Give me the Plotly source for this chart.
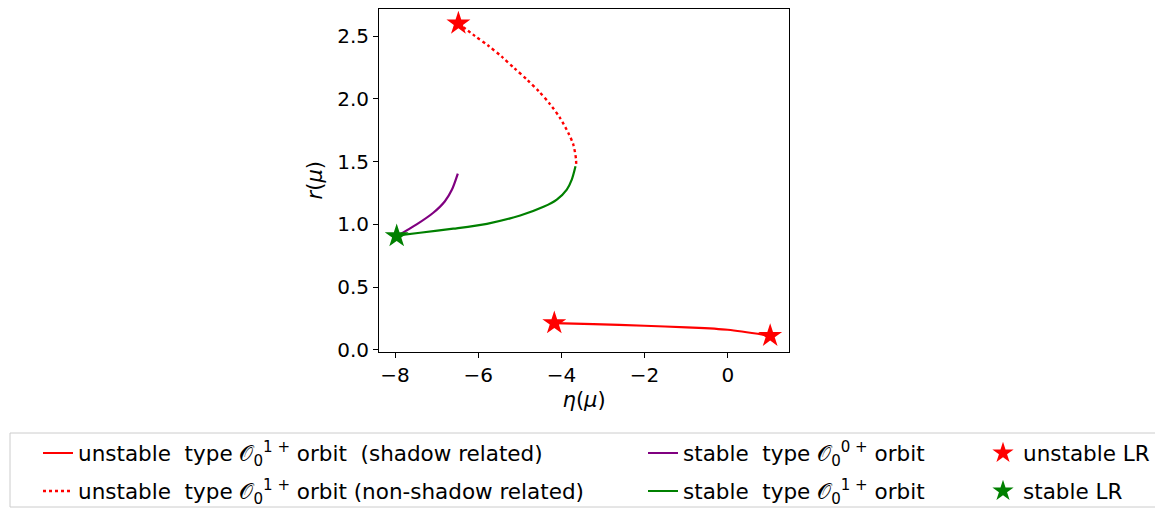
import plotly.graph_objects as go

# ---- data ----
shadow_eta = [-4.17, -3.23, -2.0, -0.99, 0.0, 1.02]
shadow_r = [0.214, 0.206, 0.193, 0.180, 0.161, 0.113]

nonshadow_eta = [-6.476, -6.082, -5.755, -5.433, -5.130, -4.825, -4.536, -4.272, -4.031, -3.832, -3.712, -3.647, -3.647]
nonshadow_r = [2.601, 2.502, 2.423, 2.336, 2.244, 2.153, 2.058, 1.958, 1.847, 1.728, 1.635, 1.516, 1.468]

stable1_eta = [-3.66, -3.75, -3.87, -4.11, -4.43, -4.99, -5.79, -6.60, -7.40, -7.92]
stable1_r = [1.463, 1.357, 1.278, 1.198, 1.140, 1.071, 1.005, 0.966, 0.934, 0.913]

stable0_eta = [-7.92, -7.48, -7.08, -6.80, -6.63, -6.49]
stable0_r = [0.913, 1.000, 1.093, 1.185, 1.278, 1.405]

unstable_lr_eta = [-6.476, -4.17, 1.02]
unstable_lr_r = [2.601, 0.214, 0.113]
stable_lr_eta = [-7.96]
stable_lr_r = [0.907]

x_ticks = [-8, -6, -4, -2, 0]
y_ticks = [0.0, 0.5, 1.0, 1.5, 2.0, 2.5]

O = "\U0001D4AA"
labels = [
    "unstable  type " + O + "<sub>0</sub><sup>1 +</sup> orbit  (shadow related)",
    "unstable  type " + O + "<sub>0</sub><sup>1 +</sup> orbit (non-shadow related)",
    "stable  type " + O + "<sub>0</sub><sup>0 +</sup> orbit",
    "stable  type " + O + "<sub>0</sub><sup>1 +</sup> orbit",
    "unstable LR",
    "stable LR",
]

FONT = "DejaVu Sans"
fig = go.Figure()
fig.add_trace(go.Scatter(x=shadow_eta, y=shadow_r, mode="lines", name=labels[0],
                         line=dict(color="red", width=2.2, shape="spline", smoothing=0.8), legend="legend"))
fig.add_trace(go.Scatter(x=nonshadow_eta, y=nonshadow_r, mode="lines", name=labels[1],
                         line=dict(color="red", width=2.4, dash="dot", shape="spline", smoothing=0.8),
                         legend="legend2"))
fig.add_trace(go.Scatter(x=stable0_eta, y=stable0_r, mode="lines", name=labels[2],
                         line=dict(color="purple", width=2.2, shape="spline", smoothing=0.8), legend="legend3"))
fig.add_trace(go.Scatter(x=stable1_eta, y=stable1_r, mode="lines", name=labels[3],
                         line=dict(color="green", width=2.2, shape="spline", smoothing=0.8), legend="legend4"))
fig.add_trace(go.Scatter(x=unstable_lr_eta, y=unstable_lr_r, mode="markers", name=labels[4],
                         marker=dict(symbol="star", color="red", size=18, line=dict(width=0)),
                         legend="legend5"))
fig.add_trace(go.Scatter(x=stable_lr_eta, y=stable_lr_r, mode="markers", name=labels[5],
                         marker=dict(symbol="star", color="green", size=18, line=dict(width=0)),
                         legend="legend6"))

# the page body adds an 8 px offset; work in page pixels and convert
OFF = 8.0
W = 1163.0 - OFF
H = 510.0 - OFF
def px(xp):
    return (xp - OFF) / W
def py(yp):
    return 1 - (yp - OFF) / H

def leg(xp, yp):
    return dict(x=px(xp), y=py(yp), xanchor="left", yanchor="middle",
                bgcolor="rgba(0,0,0,0)", borderwidth=0,
                font=dict(family=FONT, size=21.5, color="black"))

fig.update_layout(
    width=int(W), height=int(H),
    margin=dict(l=0, r=0, t=0, b=0, autoexpand=False),
    paper_bgcolor="white", plot_bgcolor="white",
    font=dict(family=FONT, size=20, color="black"),
    showlegend=True,
    legend=leg(38, 453), legend2=leg(38, 491),
    legend3=leg(643, 453), legend4=leg(643, 491),
    legend5=leg(983, 453), legend6=leg(983, 491),
    xaxis=dict(domain=[px(379), px(789.3)], range=[-8.385, 1.48],
               tickvals=x_ticks, ticktext=["\u2212" + str(-v) if v < 0 else str(v) for v in x_ticks],
               showgrid=False, zeroline=False, showline=True, linecolor="black", linewidth=1,
               mirror=True, ticks="outside", ticklen=5, tickcolor="black",
               tickfont=dict(size=20),
               title=dict(text="<i>η</i>(<i>μ</i>)", font=dict(size=21), standoff=6)),
    yaxis=dict(domain=[py(351.5), py(9)], range=[-0.012, 2.716],
               tickvals=y_ticks, ticktext=[f"{v:.1f}" for v in y_ticks],
               showgrid=False, zeroline=False, showline=True, linecolor="black", linewidth=1,
               mirror=True, ticks="outside", ticklen=5, tickcolor="black",
               tickfont=dict(size=20),
               title=dict(text="<i>r</i>(<i>μ</i>)", font=dict(size=21), standoff=8)),
    shapes=[dict(type="rect", xref="paper", yref="paper",
                 x0=px(10), x1=px(1159), y0=py(507), y1=py(433),
                 line=dict(color="#cccccc", width=1), fillcolor="rgba(0,0,0,0)")],
)

fig.write_html("out.html")
